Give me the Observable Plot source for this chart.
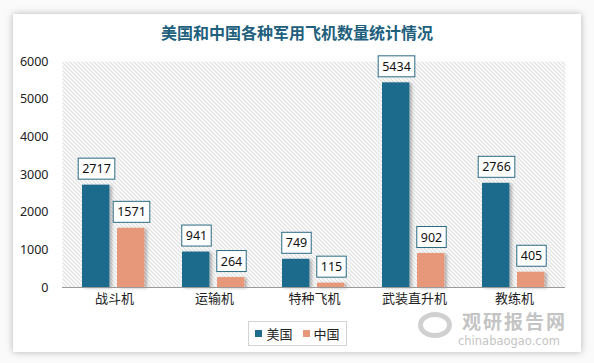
<!DOCTYPE html>
<html><head><meta charset="utf-8">
<script src="https://cdn.jsdelivr.net/npm/d3@7"></script>
<script src="https://cdn.jsdelivr.net/npm/@observablehq/plot@0.6"></script>
<style>
body{margin:0;background:#fafafa;font-family:"Noto Sans CJK SC","Noto Sans",sans-serif;}
#wrap{position:relative;width:594px;height:363px;overflow:hidden;}
#card{position:absolute;left:13px;top:14px;width:568px;height:338px;background:#fff;box-shadow:0 0 7px rgba(0,0,0,0.28);}
#title{position:absolute;left:0;top:21px;width:594px;text-align:center;font-size:16px;font-weight:bold;color:#21607c;line-height:22px;}
#chart{position:absolute;left:0;top:0;}
#legend{position:absolute;left:248px;top:321px;width:97px;height:23px;border:1px solid #d4d4d4;background:#fff;display:flex;align-items:center;justify-content:center;font-size:13px;color:#222;gap:4px;}
#legend .sw{display:inline-block;width:7px;height:7px;margin-right:4px;}
#legend span.item{display:flex;align-items:center;margin:0 3px;}
#wma{position:absolute;left:462px;top:310.5px;color:#c4c4c4;font-size:19px;font-weight:bold;letter-spacing:2px;line-height:19px;}
#wmb{position:absolute;left:458px;top:334.5px;color:#c4c4c4;font-size:11.5px;font-family:"DejaVu Sans",sans-serif;line-height:12px;}
#logo{position:absolute;left:418px;top:312px;width:34px;height:26px;border-radius:50%;border:5px solid #d0d0d0;box-sizing:border-box;}
</style></head>
<body>
<div id="wrap">
  <div id="card"></div>
  <div id="title">美国和中国各种军用飞机数量统计情况</div>
  <div id="chart"></div>
  <div id="logo"></div>
  <div id="wma">观研报告网</div>
  <div id="wmb">chinabaogao.com</div>
  <div id="legend"></div>
</div>
<script>
const categories = ["战斗机", "运输机", "特种飞机", "武装直升机", "教练机"];
const usaValues = [2717, 941, 749, 5434, 2766];
const chinaValues = [1571, 264, 115, 902, 405];
const seriesNames = ["美国", "中国"];
const seriesColors = ["#1f6b8c", "#e8987a"];
const yTicks = [0, 1000, 2000, 3000, 4000, 5000, 6000];

const data = categories.map((c, i) => ({category: c, usa: usaValues[i], china: chinaValues[i]}));

const plot = Plot.plot({
  width: 594, height: 363,
  marginLeft: 62, marginRight: 29, marginTop: 61, marginBottom: 76,
  style: {background: "transparent", fontFamily: "'Noto Sans CJK SC','Noto Sans',sans-serif", fontSize: "12px", color: "#333"},
  x: {domain: categories, padding: 0, axis: null},
  y: {domain: [0, 6000], axis: null},
  marks: [
    Plot.frame({fill: "url(#hatch)", stroke: null}),
    Plot.axisY({ticks: yTicks, tickFormat: d => String(d), tickSize: 0, tickPadding: 14, label: null, fontSize: 12.5, fill: "#222", fontFamily: "'Noto Sans',sans-serif"}),
    Plot.axisX({tickSize: 0, tickPadding: 6, label: null, fontSize: 13, fill: "#222"}),
    Plot.barY(data, {x: "category", y: "usa", fill: seriesColors[0], insetLeft: 18, insetRight: 54.6, className: "bars"}),
    Plot.barY(data, {x: "category", y: "china", fill: seriesColors[1], insetLeft: 53, insetRight: 19.6, className: "bars"}),
    Plot.ruleY([0], {stroke: "#999", strokeWidth: 1}),
    Plot.text(data, {x: "category", y: "usa", text: d => String(d.usa), dx: -18, dy: -16, fill: "#111", fontSize: 12.5, fontFamily: "'Noto Sans',sans-serif", className: "vlabel"}),
    Plot.text(data, {x: "category", y: "china", text: d => String(d.china), dx: 17, dy: -16, fill: "#111", fontSize: 12.5, fontFamily: "'Noto Sans',sans-serif", className: "vlabel"})
  ]
});

document.getElementById("chart").appendChild(plot);

// hatch pattern for plot background
const ns = "http://www.w3.org/2000/svg";
const defs = document.createElementNS(ns, "defs");
defs.innerHTML = `<pattern id="hatch" patternUnits="userSpaceOnUse" width="4" height="4">
  <rect width="4" height="4" fill="#fff"/>
  <path d="M-1,-1 L5,5 M-1,3 L1,5 M3,-1 L5,1" stroke="#bcbcbc" stroke-width="0.85"/>
</pattern>
<filter id="shadow" x="-20%" y="-10%" width="160%" height="130%">
  <feDropShadow dx="2.5" dy="1" stdDeviation="1.6" flood-color="#000" flood-opacity="0.28"/>
</filter>`;
plot.insertBefore(defs, plot.firstChild);
plot.querySelectorAll(".bars").forEach(g => g.setAttribute("filter", "url(#shadow)"));

// boxes behind value labels
plot.querySelectorAll(".vlabel").forEach(g => {
  g.querySelectorAll("text").forEach(t => {
    const b = t.getBBox();
    const r = document.createElementNS(ns, "rect");
    const padX = 4, h = 21;
    r.setAttribute("x", b.x - padX);
    r.setAttribute("y", b.y + b.height / 2 - h / 2);
    r.setAttribute("width", b.width + 2 * padX);
    r.setAttribute("height", h);
    r.setAttribute("fill", "#fff");
    r.setAttribute("stroke", "#2a6a84");
    r.setAttribute("stroke-width", "1");
    const tr = t.getAttribute("transform");
    if (tr) r.setAttribute("transform", tr);
    g.insertBefore(r, t);
  });
});

// legend
const legend = document.getElementById("legend");
seriesNames.forEach((name, i) => {
  const s = document.createElement("span");
  s.className = "item";
  s.innerHTML = `<span class="sw" style="background:${seriesColors[i]}"></span>${name}`;
  legend.appendChild(s);
});
</script>
</body></html>
